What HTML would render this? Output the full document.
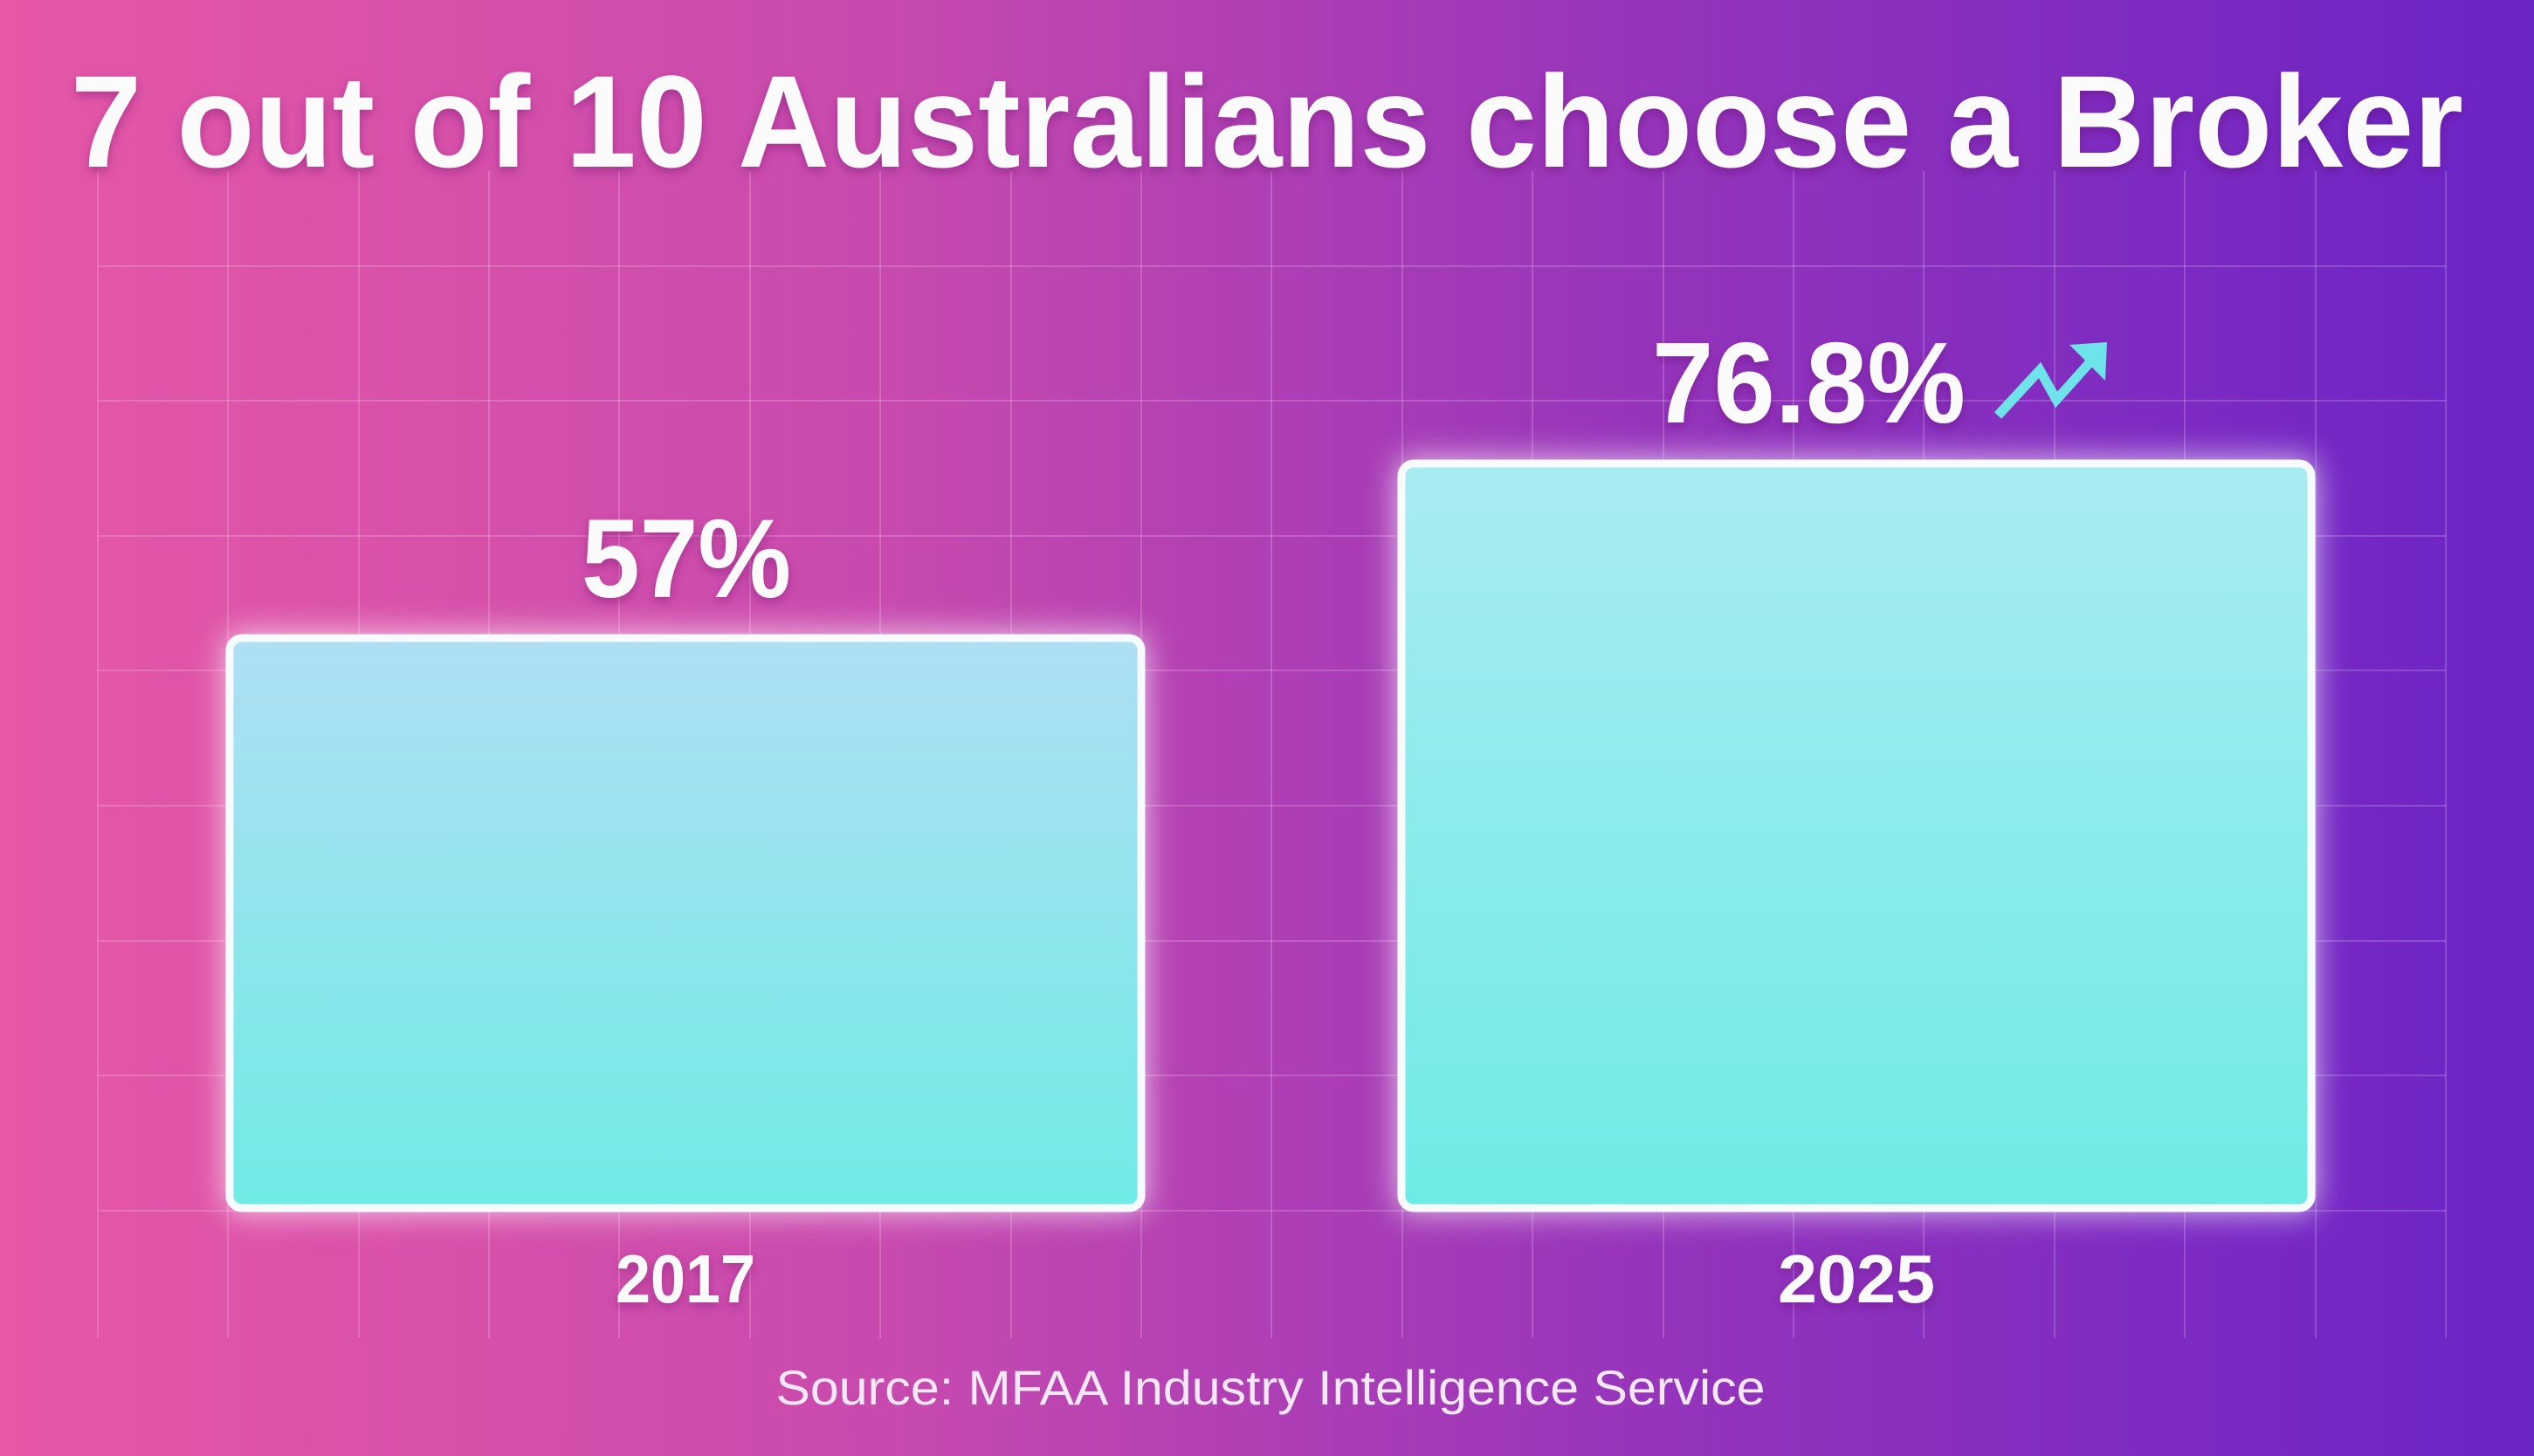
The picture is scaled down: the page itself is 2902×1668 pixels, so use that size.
<!DOCTYPE html>
<html><head><meta charset="utf-8"><style>
html,body{margin:0;padding:0;width:2902px;height:1668px;overflow:hidden}
</style></head><body>
<svg width="2902" height="1668" viewBox="0 0 2902 1668" xmlns="http://www.w3.org/2000/svg">
<defs>
<linearGradient id="bg" x1="0" y1="0" x2="1" y2="0">
<stop offset="0" stop-color="#e657a6"/>
<stop offset="0.35" stop-color="#c84aae"/>
<stop offset="0.65" stop-color="#9634bb"/>
<stop offset="1" stop-color="#6b24c6"/>
</linearGradient>
<linearGradient id="b1" x1="0" y1="0" x2="0" y2="1">
<stop offset="0" stop-color="#afdff4"/>
<stop offset="1" stop-color="#70ebe6"/>
</linearGradient>
<linearGradient id="b2" x1="0" y1="0" x2="0" y2="1">
<stop offset="0" stop-color="#a9ebf1"/>
<stop offset="1" stop-color="#6eebe5"/>
</linearGradient>
<filter id="glow" x="-20%" y="-20%" width="140%" height="140%">
<feGaussianBlur stdDeviation="18"/>
</filter>
<filter id="sh" x="-5%" y="-20%" width="110%" height="150%">
<feDropShadow dx="0" dy="5" stdDeviation="6" flood-color="#5a1060" flood-opacity="0.35"/>
</filter>
</defs>
<rect width="2902" height="1668" fill="url(#bg)"/>
<g stroke="#ffffff" stroke-opacity="0.18" stroke-width="2">
<line x1="112" y1="196" x2="112" y2="1533"/><line x1="261" y1="196" x2="261" y2="1533"/><line x1="411" y1="196" x2="411" y2="1533"/><line x1="560" y1="196" x2="560" y2="1533"/><line x1="709" y1="196" x2="709" y2="1533"/><line x1="859" y1="196" x2="859" y2="1533"/><line x1="1008" y1="196" x2="1008" y2="1533"/><line x1="1158" y1="196" x2="1158" y2="1533"/><line x1="1307" y1="196" x2="1307" y2="1533"/><line x1="1456" y1="196" x2="1456" y2="1533"/><line x1="1606" y1="196" x2="1606" y2="1533"/><line x1="1755" y1="196" x2="1755" y2="1533"/><line x1="1905" y1="196" x2="1905" y2="1533"/><line x1="2054" y1="196" x2="2054" y2="1533"/><line x1="2203" y1="196" x2="2203" y2="1533"/><line x1="2353" y1="196" x2="2353" y2="1533"/><line x1="2502" y1="196" x2="2502" y2="1533"/><line x1="2652" y1="196" x2="2652" y2="1533"/><line x1="2801" y1="196" x2="2801" y2="1533"/>
<line x1="112" y1="305" x2="2801" y2="305"/><line x1="112" y1="459" x2="2801" y2="459"/><line x1="112" y1="614" x2="2801" y2="614"/><line x1="112" y1="768" x2="2801" y2="768"/><line x1="112" y1="923" x2="2801" y2="923"/><line x1="112" y1="1078" x2="2801" y2="1078"/><line x1="112" y1="1232" x2="2801" y2="1232"/><line x1="112" y1="1387" x2="2801" y2="1387"/>
</g>
<rect x="258" y="725" width="1054" height="664" rx="16" fill="#ffffff" opacity="0.7" filter="url(#glow)"/>
<rect x="1600" y="525" width="1052" height="864" rx="16" fill="#ffffff" opacity="0.7" filter="url(#glow)"/>
<rect x="263" y="731" width="1044" height="653" rx="14" fill="url(#b1)" stroke="#f6fbff" stroke-width="9"/>
<rect x="1605" y="531" width="1042" height="853" rx="14" fill="url(#b2)" stroke="#f6fbff" stroke-width="9"/>
<g font-family="Liberation Sans, Arial, sans-serif" font-weight="bold" fill="#fbfbfb" filter="url(#sh)">
<text x="1451" y="191" font-size="150" text-anchor="middle" textLength="2740" lengthAdjust="spacingAndGlyphs">7 out of 10 Australians choose a Broker</text>
<text x="786" y="684" font-size="128" text-anchor="middle" textLength="240" lengthAdjust="spacingAndGlyphs">57%</text>
<text x="1892" y="484" font-size="132" textLength="359" lengthAdjust="spacingAndGlyphs">76.8%</text>
<text x="785" y="1492" font-size="78" text-anchor="middle" textLength="160" lengthAdjust="spacingAndGlyphs">2017</text>
<text x="2126" y="1492" font-size="78" text-anchor="middle" textLength="180" lengthAdjust="spacingAndGlyphs">2025</text>
</g>
<text x="1455" y="1609" font-family="Liberation Sans, Arial, sans-serif" font-size="56" fill="#f2e8f6" text-anchor="middle" textLength="1133" lengthAdjust="spacingAndGlyphs">Source: MFAA Industry Intelligence Service</text>
<g fill="none" stroke="#6fe3ea" stroke-width="11" stroke-linejoin="miter">
<polyline points="2288,476 2336,424 2355,458 2398,410"/>
</g>
<polygon points="2370,395 2413,392 2411,436" fill="#6fe3ea"/>
</svg>
</body></html>
